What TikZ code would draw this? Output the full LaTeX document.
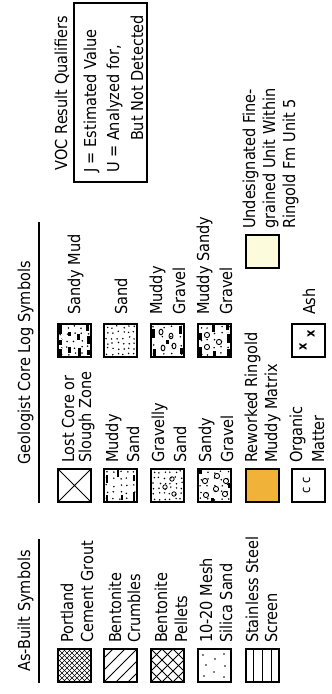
\documentclass[tikz,border=0pt]{standalone}
\usepackage{fontspec}
\setmainfont{DejaVu Sans}[FakeStretch=0.88]
\definecolor{rewk}{RGB}{240,178,56}
\definecolor{undes}{RGB}{252,252,220}
\tikzset{
  lbl/.style={inner sep=0pt, outer sep=0pt, anchor=base west, font=\fontsize{16.5bp}{19bp}\selectfont},
  hdr/.style={inner sep=0pt, outer sep=0pt, anchor=base, font=\fontsize{16.5bp}{19bp}\selectfont},
  symbox/.style={draw=black, line width=2.2bp, minimum size=32.8bp, inner sep=0pt, outer sep=0pt},
  uline/.style={line width=2bp},
  patline/.style={line width=0.8bp},
  mark1/.style={inner sep=0pt, outer sep=0pt, anchor=center, font=\fontsize{13bp}{15bp}\selectfont},
}
% box with a pattern: name, u0, v0, pattern
\newcommand\symat[4]{%
  \begin{scope}[shift={(#2,-#3)}]
    \clip (1.1,-1.1) rectangle (33.9,-33.9);
    #4
  \end{scope}
  \node[symbox] (#1) at ({#2+17.5},{-#3-17.5}) {};}
\newcommand\patportland{\foreach \k in {-35,-30,...,35}{\draw[line width=0.7bp] (\k,0)--++(35,-35); \draw[line width=0.7bp] (\k,-35)--++(35,35);}}
\newcommand\patcrumble{\foreach \k in {-24,-12,0,12,24}{\draw[patline] (\k,0)--++(35,-35);}}
\newcommand\patpellet{\foreach \k in {-22,-11,0,11,22}{\draw[patline] (\k,0)--++(35,-35); \draw[patline] (\k,-35)--++(35,35);}}
\newcommand\patmesh{\foreach \px/\py in {7/7,18/9,28/6,11/17,24/18,6/27,17/28,29/27}{\fill (\px,-\py) circle (0.8bp);}}
\newcommand\patscreen{\foreach \py in {8.75,17.5,26.25}{\draw[line width=1.3bp] (0,-\py)--(35,-\py);}}
\newcommand\patlost{\draw[patline] (0,0)--(35,-35) (0,-35)--(35,0);}
\newcommand\patsand{\pgfmathsetseed{11}\foreach \i in {0,...,5}{\foreach \j in {0,...,5}{\fill ({4+5.4*\i+2.4*rnd-1.2},{-4-5.4*\j+2.4*rnd-1.2}) circle (0.85bp);}}}
\newcommand\patdots[2]{\pgfmathsetseed{#1}\foreach \i in {0,...,#2}{\foreach \j in {0,...,#2}{\fill ({4+27*\i/#2+2.4*rnd-1.2},{-4-27*\j/#2+2.4*rnd-1.2}) circle (0.85bp);}}}
\newcommand\patmuddysand{\patdots{21}{4}
  \foreach \px/\py/\pl in {2/3/6,20/3/8,2/30/9,22/30/6,26/14/7,3/18/5}{\fill (\px,-\py) rectangle ++(\pl,-2.4);}}
\newcommand\patgravsand{\patdots{31}{5}
  \foreach \px/\py in {16/15,24/22,9/24}{\draw[line width=0.8bp] (\px,-\py) circle (2.2bp);}}
\newcommand\patsandgrav{\patdots{41}{4}
  \foreach \px/\py in {8/9,22/8,14/19,27/20,9/28,22/29}{\draw[line width=0.9bp] (\px,-\py) circle (2.6bp);}
  \foreach \px/\py/\pl in {1/14/4,29/2/5,15/31/5}{\fill (\px,-\py) rectangle ++(\pl,-3);}}
\newcommand\patsandymud{\patdots{51}{4}
  \foreach \px/\py/\pl in {1/2/8,13/2/5,24/2/9,5/11/6,22/11/4,1/21/9,18/20/6,3/30/5,14/30/8,27/29/6}{\fill[white] (\px-0.5,-\py+0.5) rectangle ++(\pl+1,-3.6);\fill (\px,-\py) rectangle ++(\pl,-2.6);}}
\newcommand\patmudgrav{\patdots{61}{3}
  \foreach \px/\py/\pl in {2/3/7,20/2/9,4/30/6,24/29/8,14/16/4}{\fill (\px,-\py) rectangle ++(\pl,-2.6);}
  \foreach \px/\py in {10/13,22/21,12/24,26/11}{\draw[line width=0.9bp] (\px,-\py) ellipse (2.8bp and 2bp);}}
\newcommand\patmudsandgrav{\patdots{71}{4}
  \foreach \px/\py/\pl in {1/2/10,18/2/7,2/16/5,26/15/7,1/30/8,15/30/9,28/29/5}{\fill[white] (\px-0.5,-\py+0.5) rectangle ++(\pl+1,-3.6);\fill (\px,-\py) rectangle ++(\pl,-2.6);}
  \foreach \px/\py in {11/10,23/10,16/22}{\fill[white] (\px,-\py) circle (3bp);\draw[line width=0.9bp] (\px,-\py) circle (2.6bp);}}
\begin{document}
\begin{tikzpicture}[x=1bp,y=1bp]
\useasboundingbox (0,0) rectangle (331,694);
\begin{scope}[rotate=90, transform shape]
% ---------- headers ----------
\node[hdr] (hAB) at (83,-30) {As-Built Symbols};
\coordinate (abL) at (11,-39); \coordinate (abR) at (155,-39);
\draw[uline] (abL) -- (abR);
\node[hdr] (hGeo) at (331,-30) {Geologist Core Log Symbols};
\coordinate (gL) at (191,-39); \coordinate (gR) at (472,-39);
\draw[uline] (gL) -- (gR);
\node[hdr] (hVOC) at (601,-67) {VOC Result Qualifiers};
\node[draw, line width=2bp, minimum width=179bp, minimum height=73bp, inner sep=0pt] (voc) at (601.5,-110.5) {};
\node[lbl] (vj) at (521,-96) {J = Estimated Value};
\node[lbl] (vu) at (521,-119) {U = Analyzed for,};
\node[lbl] (vb) at (521,-143) {\phantom{U = }But Not Detected};
% ---------- As-Built ----------
\symat{bPort}{11}{57}{\patportland}
\node[lbl] (tPort1) at (51,-73) {Portland};
\node[lbl] (tPort2) at (51,-93) {Cement Grout};
\symat{bCrum}{11}{103}{\patcrumble}
\node[lbl] (tCrum1) at (51,-121) {Bentonite};
\node[lbl] (tCrum2) at (51,-140) {Crumbles};
\symat{bPel}{11}{150}{\patpellet}
\node[lbl] (tPel1) at (51,-167) {Bentonite};
\node[lbl] (tPel2) at (51,-187) {Pellets};
\symat{bMesh}{11}{197}{\patmesh}
\node[lbl] (tMesh1) at (51,-212) {10-20 Mesh};
\node[lbl] (tMesh2) at (51,-232) {Silica Sand};
\symat{bScr}{11}{245}{\patscreen}
\node[lbl] (tScr1) at (51,-258) {Stainless Steel};
\node[lbl] (tScr2) at (51,-277) {Screen};
% ---------- Geologist column 1 ----------
\symat{bLost}{191}{57}{\patlost}
\node[lbl] (tLost1) at (231,-74) {Lost Core or};
\node[lbl] (tLost2) at (231,-91) {Slough Zone};
\symat{bMS}{191}{103}{\patmuddysand}
\node[lbl] (tMS1) at (231,-118) {Muddy};
\node[lbl] (tMS2) at (231,-139) {Sand};
\symat{bGS}{191}{150}{\patgravsand}
\node[lbl] (tGS1) at (231,-164) {Gravelly};
\node[lbl] (tGS2) at (231,-186) {Sand};
\symat{bSG}{191}{197}{\patsandgrav}
\node[lbl] (tSG1) at (231,-211) {Sandy};
\node[lbl] (tSG2) at (231,-233) {Gravel};
\node[symbox, fill=rewk] (bRew) at (208.5,-262.5) {};
\node[lbl] (tRew1) at (231,-257) {Reworked Ringold};
\node[lbl] (tRew2) at (231,-277) {Muddy Matrix};
\node[symbox, fill=white] (bOrg) at (208.5,-308.5) {};
\node[mark1] (cOrg) at (208.5,-306.5) {c\,\,c};
\node[lbl] (tOrg1) at (231,-302) {Organic};
\node[lbl] (tOrg2) at (231,-324) {Matter};
% ---------- Geologist column 2 ----------
\symat{bSM}{336}{57}{\patsandymud}
\node[lbl] (tSM) at (379,-80) {Sandy Mud};
\symat{bSand}{336}{103}{\patsand}
\node[lbl] (tSand) at (379,-127) {Sand};
\symat{bMG}{336}{150}{\patmudgrav}
\node[lbl] (tMG1) at (379,-162) {Muddy};
\node[lbl] (tMG2) at (379,-185) {Gravel};
\symat{bMSG}{336}{197}{\patmudsandgrav}
\node[lbl] (tMSG1) at (379,-209) {Muddy Sandy};
\node[lbl] (tMSG2) at (379,-232) {Gravel};
\node[symbox, fill=white] (bAsh) at (353.5,-308.5) {};
\node[mark1, font=\fontsize{13bp}{15bp}\bfseries] (xAsh1) at (347,-303) {x};
\node[mark1, font=\fontsize{13bp}{15bp}\bfseries] (xAsh2) at (360,-311) {x};
\node[lbl] (tAsh) at (379,-315) {Ash};
% ---------- Geologist column 3 ----------
\node[symbox, fill=undes] (bUnd) at (442.5,-262.5) {};
\node[lbl] (tUnd1) at (465,-255) {Undesignated Fine-};
\node[lbl] (tUnd2) at (465,-275) {grained Unit Within};
\node[lbl] (tUnd3) at (465,-295) {Ringold Fm Unit 5};
\end{scope}
\end{tikzpicture}
\end{document}
